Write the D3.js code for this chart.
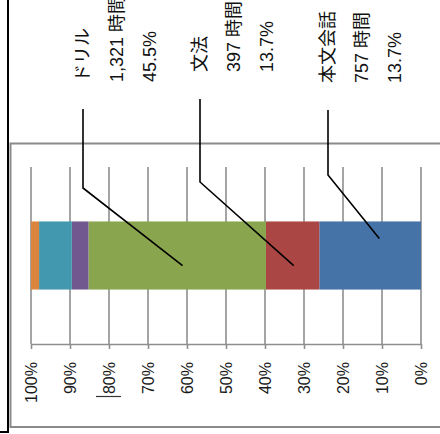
<!DOCTYPE html>
<html>
<head>
<meta charset="utf-8">
<script src="https://cdn.jsdelivr.net/npm/d3@7"></script>
<style>
  html, body { margin: 0; padding: 0; background: #fff; }
  svg { display: block; }
</style>
</head>
<body>
<svg id="chart" width="440" height="434"></svg>
<script>
// ---- data ----
const category = ["学習時間"];
const seriesNames = ["本文会話", "文法", "ドリル", "その他A", "その他B", "その他C"];
const seriesHours = [757, 397, 1321, 124, 244, 60];
const seriesColors = ["#4572A7", "#AA4643", "#89A54E", "#71588F", "#4198AF", "#DB843D"];
const labelHourText = ["757 時間", "397 時間", "1,321 時間", null, null, null];
const labelPctText = ["13.7%", "13.7%", "45.5%", null, null, null];
const tickValues = [0, 0.1, 0.2, 0.3, 0.4, 0.5, 0.6, 0.7, 0.8, 0.9, 1.0];
const tickLabels = ["0%", "10%", "20%", "30%", "40%", "50%", "60%", "70%", "80%", "90%", "100%"];

// ---- layout (positions only) ----
const labelLayout = {
  "本文会話": { x: 328, y: 83, elbowY: 175, fx: 0.41, fy: 0.25 },
  "文法":     { x: 200, y: 72, elbowY: 182, fx: 0.48, fy: 0.65 },
  "ドリル":   { x: 83,  y: 82, elbowY: 188, fx: 0.47, fy: 0.65 }
};

const svg = d3.select("#chart");

// frames
svg.append("path").attr("d", "M8,0 V432 H0").attr("fill", "none")
  .attr("stroke", "#000").attr("stroke-width", 2);
svg.append("path").attr("d", "M440,143.5 H10.5 V427 H440").attr("fill", "none")
  .attr("stroke", "#8a8a8a").attr("stroke-width", 2);

// scales (value axis runs right->left, chart is rotated)
const x = d3.scaleLinear().domain([0, 1]).range([421, 31]);
const yBand = d3.scaleBand().domain(category).range([167, 344]).paddingInner(0).paddingOuter(0.8);

// gridlines
svg.append("g").selectAll("line").data(tickValues).join("line")
  .attr("x1", d => x(d)).attr("x2", d => x(d))
  .attr("y1", 167).attr("y2", 344)
  .attr("stroke", "#8e8e8e").attr("stroke-width", 1.6);

// stacked data
const row = { cat: category[0] };
seriesNames.forEach((n, i) => row[n] = seriesHours[i]);
const stack = d3.stack().keys(seriesNames).offset(d3.stackOffsetExpand);
const stacked = stack([row]);

svg.append("g").selectAll("rect").data(stacked).join("rect")
  .attr("x", d => x(d[0][1]))
  .attr("width", d => x(d[0][0]) - x(d[0][1]))
  .attr("y", yBand(category[0]))
  .attr("height", yBand.bandwidth())
  .attr("fill", (d, i) => seriesColors[i]);

// axis
const axis = d3.axisBottom(x)
  .tickValues(tickValues)
  .tickFormat((d, i) => tickLabels[i])
  .tickSize(5)
  .tickSizeOuter(0);
const ax = svg.append("g").attr("transform", "translate(0,344)").call(axis);
ax.select(".domain").attr("stroke", "#8e8e8e").attr("stroke-width", 1.6);
ax.selectAll(".tick line").attr("stroke", "#8e8e8e").attr("stroke-width", 1.6);
ax.selectAll(".tick text")
  .attr("transform", "rotate(-90)")
  .attr("x", -18).attr("y", 0).attr("dy", "0.36em")
  .attr("text-anchor", "end")
  .attr("fill", "#1a1a1a")
  .style("font-family", "'Liberation Sans', Arial, sans-serif")
  .style("font-size", "16px");
// stray underline mark under the 80% label
svg.append("line").attr("x1", x(0.8) - 13).attr("x2", x(0.8) + 12)
  .attr("y1", 396.5).attr("y2", 396.5).attr("stroke", "#333").attr("stroke-width", 1.2);

// data labels with leader lines
const lbl = svg.append("g");
stacked.forEach((s, i) => {
  const name = seriesNames[i];
  const L = labelLayout[name];
  if (!L || labelHourText[i] == null) return;
  const v0 = s[0][0], v1 = s[0][1];
  const px = x(v0 + L.fx * (v1 - v0));
  const py = yBand(category[0]) + L.fy * yBand.bandwidth();
  lbl.append("path")
    .attr("d", `M${L.x},${L.y + 27} V${L.elbowY} L${px},${py}`)
    .attr("fill", "none").attr("stroke", "#000").attr("stroke-width", 1.6);
  const lines = [name, labelHourText[i], labelPctText[i]];
  lines.forEach((t, k) => {
    lbl.append("text")
      .attr("transform", `translate(${L.x + k * 33.5},${L.y}) rotate(-90)`)
      .attr("dy", "0.36em")
      .attr("text-anchor", "start")
      .attr("fill", "#111")
      .style("font-family", "'Liberation Sans', 'Noto Sans CJK JP', sans-serif")
      .style("font-size", "18px")
      .text(t);
  });
});
</script>
</body>
</html>
